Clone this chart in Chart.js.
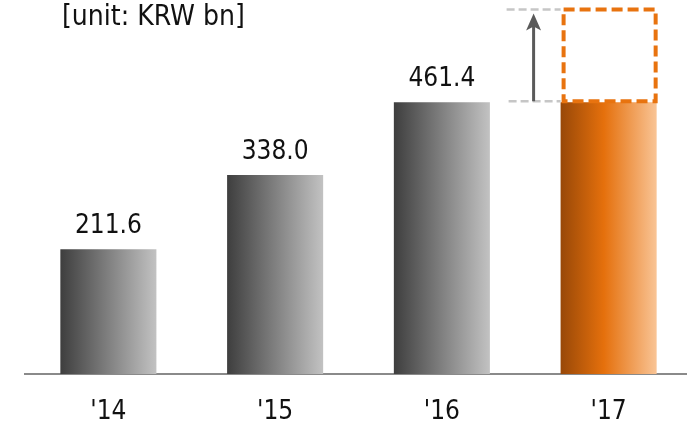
<!DOCTYPE html>
<html>
<head>
<meta charset="utf-8">
<script src="https://cdn.jsdelivr.net/npm/chart.js@4"></script>
<style>
  html, body { margin: 0; padding: 0; background: #fff; overflow: hidden; }
  #wrap { width: 692px; height: 426px; }
</style>
</head>
<body>
<div id="wrap"><canvas id="salesChart"></canvas></div>
<script>
const years = ["'14", "'15", "'16", "'17"];
const sales = [211.6, 338.0, 461.4, 461.4];
const valueLabels = ["211.6", "338.0", "461.4", ""];
const target17 = 619;
const unitText = "[unit: KRW bn]";

const FONT = '"DejaVu Sans Condensed", "DejaVu Sans", sans-serif';
const BAR_RATIO = 0.576;

function barEdges(chart, i) {
  const x = chart.scales.x.getPixelForValue(i);
  const half = chart.scales.x.width / years.length * BAR_RATIO / 2;
  return [x - half, x + half];
}

function barFill(context) {
  const chart = context.chart;
  if (!chart.chartArea) return "#888";
  const [l, r] = barEdges(chart, context.dataIndex);
  const g = chart.ctx.createLinearGradient(l, 0, r, 0);
  if (context.dataIndex === 3) {
    g.addColorStop(0, "#984808");
    g.addColorStop(0.45, "#e5700c");
    g.addColorStop(1, "#f9c495");
  } else {
    g.addColorStop(0, "#3e3e3e");
    g.addColorStop(1, "#c2c2c2");
  }
  return g;
}

// value labels, unit text and the '17 target box with arrow
const extras = {
  id: "extras",
  afterDatasetsDraw(chart) {
    const ctx = chart.ctx;
    const meta = chart.getDatasetMeta(0);
    const y = chart.scales.y;

    ctx.save();
    ctx.fillStyle = "#111";
    ctx.font = "26px " + FONT;
    ctx.textAlign = "center";
    ctx.textBaseline = "alphabetic";
    meta.data.forEach((bar, i) => {
      if (valueLabels[i]) ctx.fillText(valueLabels[i], bar.x, bar.y - 16);
    });

    ctx.font = "28px " + FONT;
    ctx.textAlign = "left";
    ctx.fillText(unitText, 62, 25);

    const [l, r] = barEdges(chart, 3);
    const yTop = y.getPixelForValue(target17);
    const yBase = y.getPixelForValue(sales[3]);

    // gray guide lines
    ctx.strokeStyle = "#c6c6c6";
    ctx.lineWidth = 2.5;
    ctx.setLineDash([8, 4]);
    ctx.beginPath();
    ctx.moveTo(l - 54, yTop);
    ctx.lineTo(l, yTop);
    ctx.moveTo(l - 52, yBase - 1);
    ctx.lineTo(l, yBase - 1);
    ctx.stroke();

    // dashed target box
    ctx.strokeStyle = "#e8730f";
    ctx.lineWidth = 4;
    ctx.setLineDash([11, 5]);
    ctx.strokeRect(l + 3, yTop, r - l - 4, yBase - 1 - yTop);
    ctx.setLineDash([]);

    // arrow
    const ax = l - 27;
    ctx.strokeStyle = "#5a5a5a";
    ctx.fillStyle = "#5a5a5a";
    ctx.lineWidth = 3;
    ctx.beginPath();
    ctx.moveTo(ax, yBase - 1);
    ctx.lineTo(ax, yTop + 16);
    ctx.stroke();
    ctx.beginPath();
    ctx.moveTo(ax, yTop + 4);
    ctx.lineTo(ax + 7.5, yTop + 21);
    ctx.lineTo(ax, yTop + 17);
    ctx.lineTo(ax - 7.5, yTop + 21);
    ctx.closePath();
    ctx.fill();
    ctx.restore();
  }
};

new Chart(document.getElementById("salesChart"), {
  type: "bar",
  data: {
    labels: years,
    datasets: [{
      data: sales,
      backgroundColor: barFill,
      borderWidth: 0,
      categoryPercentage: 1,
      barPercentage: BAR_RATIO
    }]
  },
  options: {
    responsive: true,
    maintainAspectRatio: false,
    animation: false,
    layout: { padding: { left: 25, right: 0, top: 0, bottom: 2 } },
    plugins: { legend: { display: false }, tooltip: { enabled: false } },
    scales: {
      x: {
        grid: { display: false },
        border: { display: true, color: "#8a8a8a", width: 2 },
        ticks: { color: "#111", font: { family: FONT, size: 26 }, padding: 15 },
        afterFit(scale) { scale.height = 50; }
      },
      y: {
        display: false,
        min: 0,
        max: 635
      }
    }
  },
  plugins: [extras]
});
</script>
</body>
</html>
